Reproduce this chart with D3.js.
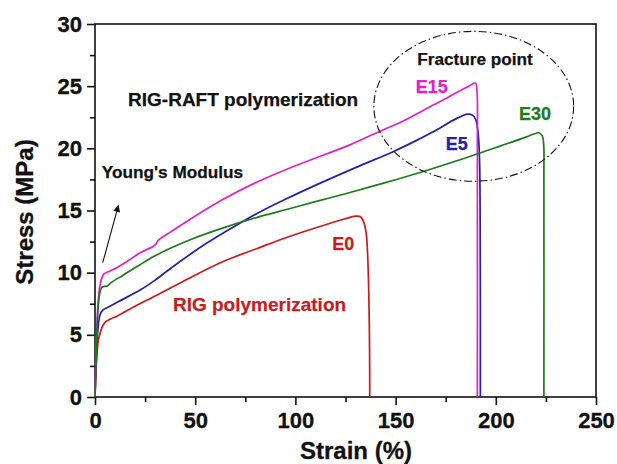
<!DOCTYPE html>
<html>
<head>
<meta charset="utf-8">
<script src="https://cdn.jsdelivr.net/npm/d3@7/dist/d3.min.js"></script>
<style>
  html, body { margin: 0; padding: 0; background: #fff; }
  svg { display: block; font-family: "Liberation Sans", Arial, sans-serif; font-weight: bold; }
</style>
</head>
<body>
<svg id="chart" width="617" height="464"></svg>
<script>
// Tensile stress-strain curves, [strain %, stress MPa]
const seriesNames = ["E0", "E5", "E15", "E30"];
const seriesColors = ["#cc1a1a", "#2222a8", "#e020c8", "#1f7a1f"];

const curveE0 = [
  [0,0],[0.5,2.0],[1.0,3.5],[1.6,4.5],[2.5,5.1],[3.5,5.6],[5,6.0],[8,6.3],[11,6.5],
  [20,7.3],[31,8.2],[47.5,9.6],[64,10.9],[81,11.95],[96,12.85],[111,13.65],[124,14.3],
  [130,14.55],[132.5,14.5],[134,14.1],[135.3,13.2],[136,11.6],[136.6,8.5],[137,4],[137.1,0]
];
const curveE5 = [
  [0,0],[0.4,2.0],[0.9,4.0],[1.5,5.5],[2.5,6.6],[4,7.0],[7.5,7.3],[12,7.7],[22.5,8.6],
  [30,9.4],[39,10.5],[56,12.4],[72.5,14.0],[82.5,14.9],[95,15.9],[111,17.1],[130,18.45],
  [149,19.75],[160,20.6],[169,21.35],[181,22.45],[186,22.75],[188.5,22.65],[190,22.3],
  [191.2,21.2],[191.9,19],[192.2,14],[192.3,0]
];
const curveE15 = [
  [0,0],[0.3,2.5],[0.8,5],[1.5,7.5],[2.5,9.0],[3.5,9.6],[4.5,9.9],[7,10.1],[10.8,10.4],
  [16,10.9],[22.5,11.6],[29,12.1],[30.5,12.3],[31.5,12.6],[38,13.3],[47.5,14.3],[64,15.9],
  [81,17.3],[100,18.6],[127.5,20.3],[142.5,21.4],[152.5,22.1],[169,23.5],[186,24.95],
  [189.8,25.25],[190.6,24.6],[190.8,20],[190.8,0]
];
const curveE30 = [
  [0,0],[0.4,2.5],[0.9,5],[1.5,7],[2.3,8.3],[3.3,8.8],[4.5,8.9],[5.8,8.9],[8,9.2],[14,9.8],
  [22,10.6],[31,11.45],[47.5,12.65],[64,13.6],[81,14.45],[96,15.1],[111,15.75],[125,16.35],
  [144,17.2],[165,18.2],[182.5,19.1],[202.5,20.2],[215,20.9],[219,21.15],
  [221.5,21.25],[223.2,21.0],[223.9,20.3],[224,18],[224,0]
];
const seriesData = [curveE0, curveE5, curveE15, curveE30];

const xTicks = [0, 50, 100, 150, 200, 250];
const yTicks = [0, 5, 10, 15, 20, 25, 30];
const xMinorTicks = [25, 75, 125, 175, 225];
const yMinorTicks = [2.5, 7.5, 12.5, 17.5, 22.5, 27.5];

const svg = d3.select("#chart");
const plotLeft = 95, plotRight = 596, plotTop = 24, plotBottom = 397;

const x = d3.scaleLinear().domain([0, 250]).range([plotLeft, plotRight]);
const y = d3.scaleLinear().domain([0, 30]).range([plotBottom, plotTop]);

// Axes: major ticks with labels, minor ticks without
svg.append("g").attr("transform", `translate(${plotLeft},0)`)
  .call(d3.axisLeft(y).tickValues(yTicks).tickSize(8).tickPadding(5).tickFormat(d3.format("d")));
svg.append("g").attr("transform", `translate(${plotLeft},0)`)
  .call(d3.axisLeft(y).tickValues(yMinorTicks).tickSize(5).tickFormat(""));
svg.append("g").attr("transform", `translate(0,${plotBottom})`)
  .call(d3.axisBottom(x).tickValues(xTicks).tickSize(8).tickPadding(7).tickFormat(d3.format("d")));
svg.append("g").attr("transform", `translate(0,${plotBottom})`)
  .call(d3.axisBottom(x).tickValues(xMinorTicks).tickSize(5).tickFormat(""));

svg.selectAll(".domain").remove();
svg.selectAll(".tick line").attr("stroke", "#111").attr("stroke-width", 1.6);
svg.selectAll(".tick text")
  .attr("fill", "#111")
  .attr("stroke", "#111").attr("stroke-width", 0.3)
  .style("font-family", '"Liberation Sans", Arial, sans-serif')
  .style("font-weight", "bold")
  .style("font-size", "22px");

// Frame
svg.append("rect")
  .attr("x", plotLeft).attr("y", plotTop)
  .attr("width", plotRight - plotLeft).attr("height", plotBottom - plotTop)
  .attr("fill", "none").attr("stroke", "#111").attr("stroke-width", 1.6);

// Curves
const line = d3.line()
  .x(d => x(d[0])).y(d => y(d[1]))
  .curve(d3.curveCatmullRom.alpha(0.5));

svg.append("g").selectAll("path")
  .data(seriesData)
  .join("path")
  .attr("d", line)
  .attr("fill", "none")
  .attr("stroke", (d, i) => seriesColors[i])
  .attr("stroke-width", 1.7)
  .attr("stroke-linejoin", "round");

// Axis titles
svg.append("text")
  .attr("transform", `translate(33,212) rotate(-90)`)
  .attr("text-anchor", "middle")
  .attr("fill", "#111").attr("stroke", "#111").attr("stroke-width", 0.3)
  .style("font-size", "24px")
  .text("Stress (MPa)");
svg.append("text")
  .attr("x", 356).attr("y", 459)
  .attr("text-anchor", "middle")
  .attr("fill", "#111").attr("stroke", "#111").attr("stroke-width", 0.3)
  .style("font-size", "24px")
  .text("Strain (%)");

// Annotations
function label(txt, sx, sy, color, size) {
  svg.append("text")
    .attr("x", x(sx)).attr("y", y(sy))
    .attr("fill", color)
    .attr("stroke", color).attr("stroke-width", 0.25)
    .style("font-size", size + "px")
    .text(txt);
}
label("RIG-RAFT polymerization", 16.5, 23.38, "#111", 19);
label("Young's Modulus", 3.4, 17.62, "#111", 17.2);
label("RIG polymerization", 38.9, 6.9, "#c41e1e", 19);
label("Fracture point", 160.8, 26.73, "#111", 17.2);
label("E15", 160, 24.46, seriesColors[2], 18);
label("E5", 175, 19.86, seriesColors[1], 18);
label("E30", 211.6, 22.31, seriesColors[3], 18);
label("E0", 118.4, 11.85, seriesColors[0], 18);

// Arrow pointing along the initial elastic slope
svg.append("defs").append("marker")
  .attr("id", "arrowHead")
  .attr("viewBox", "0 0 10 10")
  .attr("refX", 9).attr("refY", 5)
  .attr("markerWidth", 10).attr("markerHeight", 7)
  .attr("markerUnits", "userSpaceOnUse")
  .attr("orient", "auto")
  .append("path").attr("d", "M0,0 L10,5 L0,10 Z").attr("fill", "#111");
svg.append("line")
  .attr("x1", x(3.85)).attr("y1", y(10.8))
  .attr("x2", x(11.65)).attr("y2", y(15.4))
  .attr("stroke", "#111").attr("stroke-width", 1.1)
  .attr("marker-end", "url(#arrowHead)");

// Dash-dot ellipse around the fracture points
svg.append("ellipse")
  .attr("cx", x(189)).attr("cy", y(23.38))
  .attr("rx", x(49.85) - x(0)).attr("ry", y(0) - y(6.03))
  .attr("fill", "none")
  .attr("stroke", "#111")
  .attr("stroke-width", 1.1)
  .attr("stroke-dasharray", "8,3,1.5,3");
</script>
</body>
</html>
